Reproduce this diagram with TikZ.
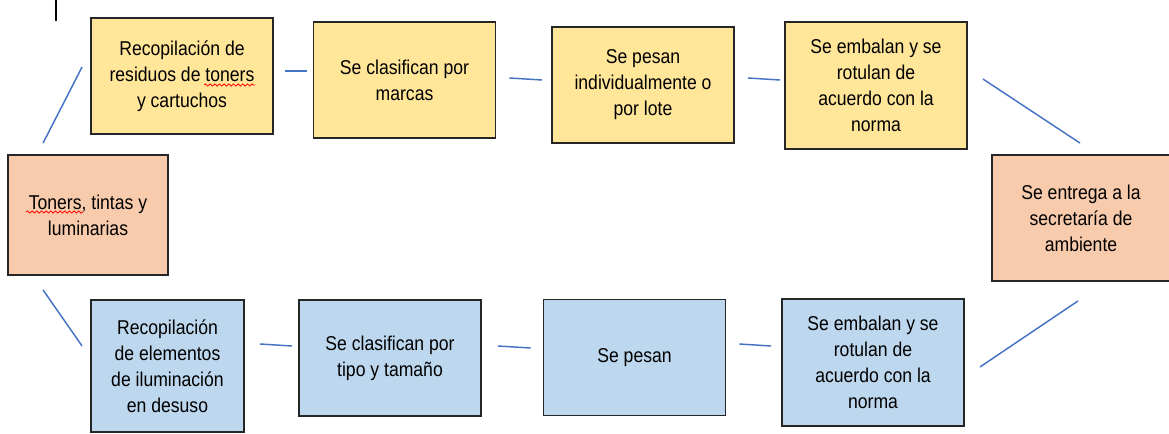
\documentclass[tikz,border=0pt]{standalone}
\usepackage{fontspec}
\setmainfont{Liberation Sans}[FakeStretch=0.88]
\usetikzlibrary{positioning,calc,decorations.pathmorphing}
\definecolor{boxyellow}{HTML}{FFE699}
\definecolor{boxpeach}{HTML}{F8CBAD}
\definecolor{boxblue}{HTML}{BDD7EE}
\definecolor{linkblue}{HTML}{4472C4}

\begin{document}
\begin{tikzpicture}[x=0.75pt, y=-0.75pt,
        basenode/.style={rectangle, draw=black!85, line width=1.4pt, align=center, inner sep=0pt, minimum width=136.5pt, minimum height=87pt, font=\fontsize{15}{19.5}\selectfont},
        yellownode/.style={basenode, fill=boxyellow},
        peachnode/.style={basenode, fill=boxpeach},
        bluenode/.style={basenode, fill=boxblue},
        link/.style={draw=linkblue, line width=1.1pt},
        squiggle/.style={draw=red, line width=0.6pt, decorate, decoration={snake, segment length=3.5pt, amplitude=0.8pt}},
    ]
    \useasboundingbox (0,0) rectangle (1169,433);

    % end points
    \node[peachnode, minimum width=120pt, minimum height=90pt]      (source) at (88,215)     {Toners, tintas y\\luminarias};
    \node[peachnode, minimum width=133.5pt, minimum height=94.5pt]  (deliver) at (1081,218)  {Se entrega a la\\secretaría de\\ambiente};

    % toner branch
    \node[yellownode]                        (tonCollect)  at (182,76)    {Recopilación de\\residuos de toners\\y cartuchos};
    \node[yellownode]                        (tonSort)     at (404.5,80)  {Se clasifican por\\marcas};
    \node[yellownode]                        (tonWeigh)    at (643,85)    {Se pesan\\individualmente o\\por lote};
    \node[yellownode, minimum height=95.25pt] (tonPack)    at (876,85.5)  {Se embalan y se\\rotulan de\\acuerdo con la\\norma};

    % lamp branch
    \node[bluenode, minimum width=114.75pt, minimum height=99pt] (lampCollect) at (167.5,366) {Recopilación\\de elementos\\de iluminación\\en desuso};
    \node[bluenode]                          (lampSort)    at (390,358)   {Se clasifican por\\tipo y tamaño};
    \node[bluenode]                          (lampWeigh)   at (634.5,357.5) {Se pesan};
    \node[bluenode, minimum height=95.25pt]  (lampPack)    at (873,362.5) {Se embalan y se\\rotulan de\\acuerdo con la\\norma};

    \draw[link] ($(source.north west)+(36,-11)$) -- ($(tonCollect.west)+(-8,-9)$);
    \draw[link] ($(tonCollect.east)+(11,-5)$) -- ($(tonSort.west)+(-6,-9)$);
    \draw[link] ($(tonSort.east)+(13,-2)$) -- ($(tonWeigh.west)+(-9,-5)$);
    \draw[link] ($(tonWeigh.east)+(13,-7)$) -- ($(tonPack.west)+(-4,-5.5)$);
    \draw[link] ($(tonPack.east)+(15,-6.5)$) -- ($(deliver.north)+(-1,-11)$);

    \draw[link] ($(source.south west)+(36,14)$) -- ($(lampCollect.west)+(-8,-20)$);
    \draw[link] ($(lampCollect.east)+(15,-22)$) -- ($(lampSort.west)+(-6,-12)$);
    \draw[link] ($(lampSort.east)+(16,-12)$) -- ($(lampWeigh.west)+(-12,-9.5)$);
    \draw[link] ($(lampWeigh.east)+(13,-13.5)$) -- ($(lampPack.west)+(-10,-16.5)$);
    \draw[link] ($(lampPack.east)+(15,4.5)$) -- ($(deliver.south)+(-3,19)$);

    % spell check marks and cursor
    \draw[squiggle] ($(tonCollect.center)+(22,9)$) -- ++(51,0);
    \draw[squiggle] ($(source.center)+(-62,-3)$) -- ++(57,0);
    \draw[black, line width=0.8pt] (56,0) -- (56,21);
\end{tikzpicture}
\end{document}
